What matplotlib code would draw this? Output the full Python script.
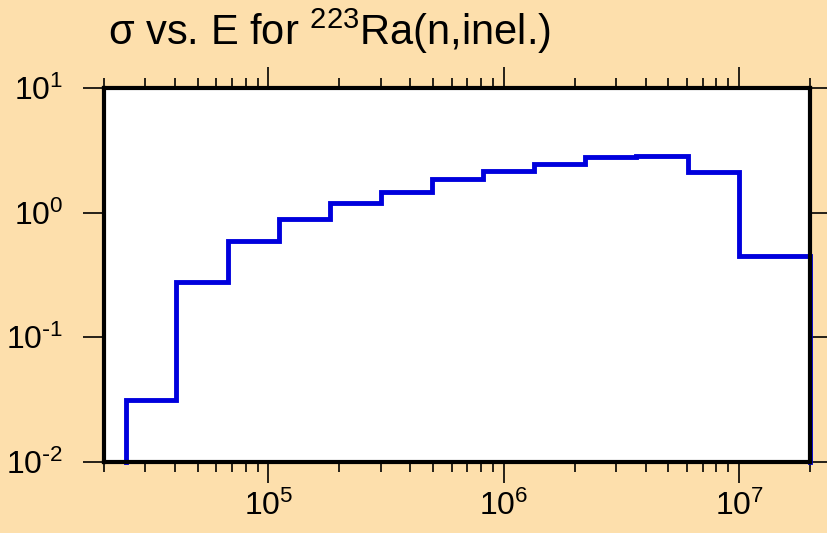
import numpy as np
import matplotlib
matplotlib.use("Agg")
import matplotlib.pyplot as plt
from matplotlib.ticker import LogLocator, FuncFormatter, NullLocator, NullFormatter

# bin edges (eV) and cross sections (b)
edges = [2.47e4, 4.06e4, 6.70e4, 1.11e5, 1.83e5, 3.02e5, 4.97e5, 8.18e5,
         1.35e6, 2.22e6, 3.66e6, 6.07e6, 1.0e7, 2.0e7]
sigma = [0.0314, 0.278, 0.593, 0.889, 1.195, 1.465, 1.863, 2.16,
         2.46, 2.80, 2.85, 2.12, 0.449]

bg = '#fddfac'
plt.rcParams['font.family'] = ['Liberation Sans', 'DejaVu Sans']
plt.rcParams['mathtext.default'] = 'regular'

fig = plt.figure(figsize=(8.27, 5.33), dpi=100, facecolor=bg)
ax = fig.add_axes([104/827, 71/533, 706/827, 374/533])
ax.set_facecolor('white')

# step outline, dropping to the bottom at both ends
xs = [edges[0]] + list(np.repeat(edges, 2)[1:-1]) + [edges[-1]]
ys = [1e-2] + list(np.repeat(sigma, 2)) + [1e-2]
ax.plot(xs, ys, color='#0000dd', lw=3.5, solid_joinstyle='miter', clip_on=False, zorder=3)

ax.set_xscale('log')
ax.set_yscale('log')
ax.set_xlim(2e4, 2e7)
ax.set_ylim(1e-2, 1e1)

for s in ax.spines.values():
    s.set_linewidth(3)
    s.set_zorder(4)


def pow10(v, pos):
    e = int(round(np.log10(v)))
    if e < 0:
        return r'$10^{\text{-}%d}$' % (-e)
    return r'$10^{%d}$' % e


ax.xaxis.set_major_locator(LogLocator(base=10, numticks=10))
ax.xaxis.set_minor_locator(LogLocator(base=10, subs=np.arange(2, 10), numticks=10))
ax.xaxis.set_minor_formatter(NullFormatter())
ax.yaxis.set_major_locator(LogLocator(base=10, numticks=10))
ax.yaxis.set_minor_locator(NullLocator())
ax.xaxis.set_major_formatter(FuncFormatter(pow10))
ax.yaxis.set_major_formatter(FuncFormatter(pow10))

ax.tick_params(which='major', direction='out', length=15, width=1.2,
               top=True, right=True, labelsize=23, color='black')
ax.tick_params(which='minor', direction='out', length=7, width=1.2, top=True, right=True)
ax.tick_params(axis='x', pad=6)
ax.tick_params(axis='y', pad=14)

fig.text(108/827, 1 - 45/533, r'$\sigma$ vs. E for $^{223}$Ra(n,inel.)', fontsize=30,
         ha='left', va='baseline')

fig.savefig('out.png', dpi=100, facecolor=bg)
